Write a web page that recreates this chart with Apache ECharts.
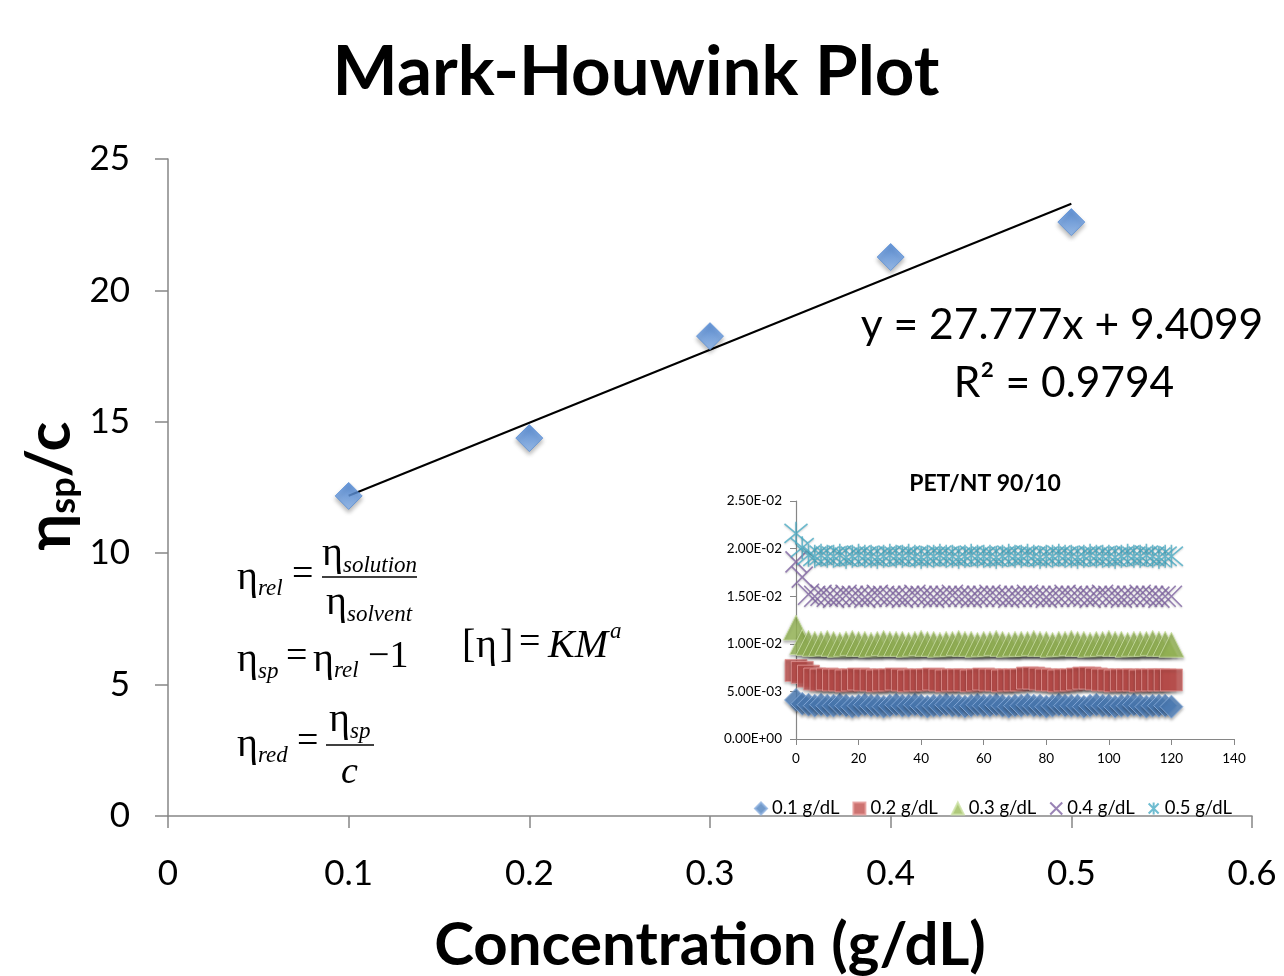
<!DOCTYPE html>
<html>
<head>
<meta charset="utf-8">
<script src="https://cdn.jsdelivr.net/npm/echarts@6/dist/echarts.min.js"></script>
<style>
  html, body { margin: 0; padding: 0; background: #fff; }
  #chart { width: 1284px; height: 976px; }
</style>
</head>
<body>
<div id="chart"></div>
<script>
// ---------- Main chart data ----------
const concentrations = [0.1, 0.2, 0.3, 0.4, 0.5];
const reducedViscosity = [12.18, 14.38, 18.26, 21.27, 22.60];
const trendSlope = 27.777;
const trendIntercept = 9.4099;
const trendRSquared = 0.9794;
const trendRange = [0.1, 0.5];

// ---------- Inset chart data (PET/NT 90/10) ----------
const insetTimes = [0,2,4,6,8,10,12,14,16,18,20,22,24,26,28,30,32,34,36,38,40,42,44,46,48,50,52,54,56,58,60,62,64,66,68,70,72,74,76,78,80,82,84,86,88,90,92,94,96,98,100,102,104,106,108,110,112,114,116,118,120];
const insetNames = ['0.1 g/dL', '0.2 g/dL', '0.3 g/dL', '0.4 g/dL', '0.5 g/dL'];
const conc01 = [0.0041,0.0037,0.0036,0.0035,0.0036,0.0035,0.0035,0.0036,0.0035,0.0034,0.0035,0.0036,0.0035,0.0035,0.0034,0.0035,0.0036,0.0035,0.0035,0.0036,0.0035,0.0034,0.0035,0.0035,0.0036,0.0035,0.0035,0.0034,0.0035,0.0036,0.0035,0.0035,0.0036,0.0035,0.0034,0.0035,0.0035,0.0036,0.0035,0.0035,0.0034,0.0035,0.0036,0.0035,0.0035,0.0035,0.0034,0.0035,0.0036,0.0035,0.0035,0.0034,0.0035,0.0035,0.0036,0.0035,0.0034,0.0035,0.0035,0.0035,0.0034];
const conc02 = [0.0072,0.0070,0.0066,0.0063,0.0062,0.0063,0.0062,0.0062,0.0061,0.0062,0.0063,0.0062,0.0062,0.0061,0.0062,0.0062,0.0063,0.0062,0.0061,0.0062,0.0062,0.0062,0.0063,0.0062,0.0061,0.0062,0.0062,0.0062,0.0061,0.0062,0.0063,0.0062,0.0062,0.0061,0.0062,0.0062,0.0062,0.0064,0.0064,0.0063,0.0062,0.0062,0.0061,0.0062,0.0062,0.0063,0.0064,0.0064,0.0063,0.0062,0.0062,0.0061,0.0062,0.0062,0.0062,0.0061,0.0062,0.0062,0.0062,0.0062,0.0062];
const conc03 = [0.0117,0.0102,0.0101,0.0100,0.0100,0.0101,0.0100,0.0099,0.0100,0.0101,0.0100,0.0100,0.0099,0.0100,0.0101,0.0100,0.0100,0.0100,0.0099,0.0100,0.0101,0.0100,0.0100,0.0099,0.0100,0.0100,0.0101,0.0100,0.0100,0.0099,0.0100,0.0100,0.0101,0.0100,0.0099,0.0100,0.0100,0.0100,0.0101,0.0100,0.0100,0.0099,0.0100,0.0100,0.0101,0.0100,0.0100,0.0099,0.0100,0.0100,0.0101,0.0100,0.0100,0.0099,0.0100,0.0100,0.0100,0.0101,0.0100,0.0100,0.0099];
const conc04 = [0.0186,0.0170,0.0152,0.0150,0.0151,0.0150,0.0149,0.0150,0.0151,0.0150,0.0150,0.0149,0.0150,0.0151,0.0150,0.0150,0.0150,0.0149,0.0150,0.0151,0.0150,0.0150,0.0149,0.0150,0.0150,0.0151,0.0150,0.0150,0.0149,0.0150,0.0150,0.0151,0.0150,0.0150,0.0149,0.0150,0.0150,0.0151,0.0150,0.0150,0.0149,0.0150,0.0150,0.0151,0.0150,0.0150,0.0150,0.0149,0.0150,0.0151,0.0150,0.0150,0.0149,0.0150,0.0150,0.0151,0.0150,0.0150,0.0149,0.0150,0.0150];
const conc05 = [0.0216,0.0201,0.0193,0.0192,0.0193,0.0192,0.0192,0.0193,0.0191,0.0192,0.0193,0.0192,0.0192,0.0191,0.0192,0.0193,0.0192,0.0192,0.0193,0.0192,0.0191,0.0192,0.0192,0.0193,0.0192,0.0192,0.0191,0.0192,0.0193,0.0192,0.0192,0.0192,0.0191,0.0192,0.0193,0.0192,0.0192,0.0193,0.0192,0.0191,0.0192,0.0192,0.0193,0.0192,0.0192,0.0191,0.0192,0.0193,0.0192,0.0192,0.0192,0.0191,0.0192,0.0193,0.0192,0.0192,0.0193,0.0192,0.0191,0.0192,0.0192];
const insetValues = [conc01, conc02, conc03, conc04, conc05];

// ---------- Axis ticks ----------
const mainXTicks = { min: 0, max: 0.6, interval: 0.1 };
const mainYTicks = { min: 0, max: 25, interval: 5 };
const insetXTicks = { min: 0, max: 140, interval: 20 };
const insetYTicks = { min: 0, max: 0.025, interval: 0.005 };

// ---------- Styling ----------
const sans = 'Lato, "Open Sans", "DejaVu Sans", sans-serif';
const serif = '"Liberation Serif", "DejaVu Serif", serif';
const axisGray = '#868686';
const insetColors = ['#4F81BD', '#C0504D', '#9BBB59', '#8064A2', '#4BACC6'];
const insetBorders = ['#8DB0DE', '#E59A98', '#CDE2A6', '#8064A2', '#4BACC6'];
const insetSymbols = ['diamond', 'rect', 'triangle',
  'path://M0,0L10,10M10,0L0,10',
  'path://M0,0L10,10M10,0L0,10M5,-1L5,11'];
const insetSizes = [23, 22, 25, 21, 23];

function sci(v) {
  const s = Number(v).toExponential(2);
  const [m, e] = s.split('e');
  const sign = e[0] === '-' ? '-' : '+';
  const digits = e.replace(/[+-]/, '').padStart(2, '0');
  return m + 'E' + sign + digits;
}

const chart = echarts.init(document.getElementById('chart'), null, { renderer: 'canvas' });

const trendData = trendRange.map(x => [x, trendSlope * x + trendIntercept]);

const insetSeries = insetNames.map((name, i) => {
  const isLine = i >= 3;
  return {
    name: name,
    type: 'scatter',
    xAxisIndex: 1,
    yAxisIndex: 1,
    symbol: insetSymbols[i],
    symbolSize: insetSizes[i],
    data: insetTimes.map((t, k) => [t, insetValues[i][k]]),
    itemStyle: isLine ? {
      color: 'rgba(0,0,0,0)',
      borderColor: insetColors[i],
      borderWidth: 1.6,
      shadowColor: 'rgba(0,0,0,0.25)', shadowBlur: 2, shadowOffsetY: 1
    } : {
      color: insetColors[i],
      borderColor: insetBorders[i],
      borderWidth: 1,
      shadowColor: 'rgba(0,0,0,0.35)', shadowBlur: 3, shadowOffsetY: 2
    },
    emphasis: { disabled: true },
    animation: false,
    z: 3
  };
});

function t(x, y, s, size, italic, extra) {
  return Object.assign({
    type: 'text', x: x, y: y, z: 10,
    style: {
      text: s,
      font: (italic ? 'italic ' : '') + size + 'px ' + serif,
      fill: '#000',
      align: 'left',
      verticalAlign: 'middle'
    }
  }, extra || {});
}
function bar(x1, x2, y) {
  return { type: 'line', z: 10, shape: { x1: x1, y1: y, x2: x2, y2: y }, style: { stroke: '#000', lineWidth: 1.5 } };
}

const formulaGraphics = [
  // eta_rel = eta_solution / eta_solvent
  t(237, 578, 'η', 40), t(258, 589, 'rel', 23, true), t(292, 575, '=', 38),
  t(322, 554, 'η', 40), t(343, 566, 'solution', 23, true),
  bar(322, 417, 577),
  t(326, 603, 'η', 40), t(347, 615, 'solvent', 23, true),
  // eta_sp = eta_rel - 1
  t(237, 660, 'η', 40), t(258, 672, 'sp', 23, true), t(286, 657, '=', 38),
  t(313, 660, 'η', 40), t(334, 671, 'rel', 23, true), t(368, 657, '−1', 38),
  // eta_red = eta_sp / c
  t(237, 745, 'η', 40), t(258, 756, 'red', 23, true), t(297, 742, '=', 38),
  t(329, 720, 'η', 40), t(350, 732, 'sp', 23, true),
  bar(326, 374, 745),
  t(341, 773, 'c', 38, true),
  // [eta] = K M^a
  t(462, 646, '[', 40), t(476, 646, 'η', 40), t(500, 646, ']', 40),
  t(519, 643, '=', 38), t(548, 646, 'KM', 40, true), t(610, 632, 'a', 23, true)
];

const option = {
  backgroundColor: '#ffffff',
  animation: false,
  grid: [
    { left: 168, top: 159, right: 32, bottom: 160, containLabel: false, outerBoundsMode: 'none' },
    { left: 796, top: 501, width: 438, height: 238, containLabel: false, outerBoundsMode: 'none' }
  ],
  legend: {
    data: insetNames,
    left: 749,
    top: 794,
    itemWidth: 12,
    itemHeight: 12,
    itemGap: 13,
    textStyle: { fontFamily: sans, fontSize: 18.5, color: '#000' },
    selectedMode: false
  },
  xAxis: [{
    type: 'value',
    min: mainXTicks.min, max: mainXTicks.max, interval: mainXTicks.interval,
    name: 'Concentration (g/dL)',
    nameLocation: 'middle',
    nameGap: 100,
    nameTextStyle: { fontFamily: sans, fontWeight: 'bold', fontSize: 60, color: '#000' },
    axisLine: { lineStyle: { color: axisGray, width: 1.5 } },
    axisTick: { show: true, length: 12, lineStyle: { color: axisGray, width: 1.5 } },
    axisLabel: { fontFamily: sans, fontSize: 35, color: '#000', margin: 40 },
    splitLine: { show: false }
  }, {
    type: 'value', gridIndex: 1,
    min: insetXTicks.min, max: insetXTicks.max, interval: insetXTicks.interval,
    axisLine: { lineStyle: { color: axisGray, width: 1.2 } },
    axisTick: { show: true, length: 6, lineStyle: { color: axisGray } },
    axisLabel: { fontFamily: sans, fontSize: 13.5, color: '#000', margin: 13 },
    splitLine: { show: false }
  }],
  yAxis: [{
    type: 'value',
    min: mainYTicks.min, max: mainYTicks.max, interval: mainYTicks.interval,
    axisLine: { show: true, lineStyle: { color: axisGray, width: 1.5 } },
    axisTick: { show: true, length: 13, lineStyle: { color: axisGray, width: 1.5 } },
    axisLabel: { fontFamily: sans, fontSize: 35, color: '#000', margin: 38 },
    splitLine: { show: false }
  }, {
    type: 'value', gridIndex: 1,
    min: insetYTicks.min, max: insetYTicks.max, interval: insetYTicks.interval,
    axisLine: { show: true, lineStyle: { color: axisGray, width: 1.2 } },
    axisTick: { show: true, length: 6, lineStyle: { color: axisGray } },
    axisLabel: { fontFamily: sans, fontSize: 13.5, color: '#000', margin: 14, formatter: sci },
    splitLine: { show: false }
  }],
  graphic: [
    {
      type: 'text', x: 636, y: 73, z: 10,
      style: { text: 'Mark-Houwink Plot', font: 'bold 69px ' + sans, fill: '#000', align: 'center', verticalAlign: 'middle' }
    },
    {
      type: 'text', x: 50, y: 486, rotation: Math.PI / 2, z: 10,
      style: {
        text: '{a|η}{b|sp}{a|/c}',
        align: 'center', verticalAlign: 'middle',
        rich: {
          a: { fontFamily: sans, fontWeight: 'bold', fontSize: 62, fill: '#000', lineHeight: 62, verticalAlign: 'top' },
          b: { fontFamily: sans, fontWeight: 'bold', fontSize: 36, fill: '#000', lineHeight: 40, verticalAlign: 'bottom' }
        }
      }
    },
    {
      type: 'text', x: 1062, y: 325, z: 10,
      style: { text: 'y = ' + trendSlope + 'x + ' + trendIntercept, font: '42.5px ' + sans, fill: '#000', align: 'center', verticalAlign: 'middle' }
    },
    {
      type: 'text', x: 1064, y: 383, z: 10,
      style: { text: 'R² = ' + trendRSquared, font: '42.5px ' + sans, fill: '#000', align: 'center', verticalAlign: 'middle' }
    },
    {
      type: 'text', x: 985, y: 484, z: 10,
      style: { text: 'PET/NT 90/10', font: 'bold 23px ' + sans, fill: '#000', align: 'center', verticalAlign: 'middle' }
    }
  ].concat(formulaGraphics),
  series: [
    {
      name: 'trend',
      type: 'line',
      data: trendData,
      symbol: 'none',
      lineStyle: { color: '#000', width: 2 },
      emphasis: { disabled: true },
      z: 2
    },
    {
      name: 'Mark-Houwink',
      type: 'scatter',
      data: concentrations.map((c, i) => [c, reducedViscosity[i]]),
      symbol: 'diamond',
      symbolSize: 27,
      itemStyle: {
        color: new echarts.graphic.LinearGradient(0, 0, 0, 1, [
          { offset: 0, color: '#3F7DD3' },
          { offset: 1, color: '#8DB8F0' }
        ]),
        borderColor: '#5A8ED6',
        borderWidth: 1,
        shadowColor: 'rgba(0,0,0,0.35)', shadowBlur: 4, shadowOffsetY: 3
      },
      emphasis: { disabled: true },
      z: 3
    }
  ].concat(insetSeries)
};

chart.setOption(option);
</script>
</body>
</html>
